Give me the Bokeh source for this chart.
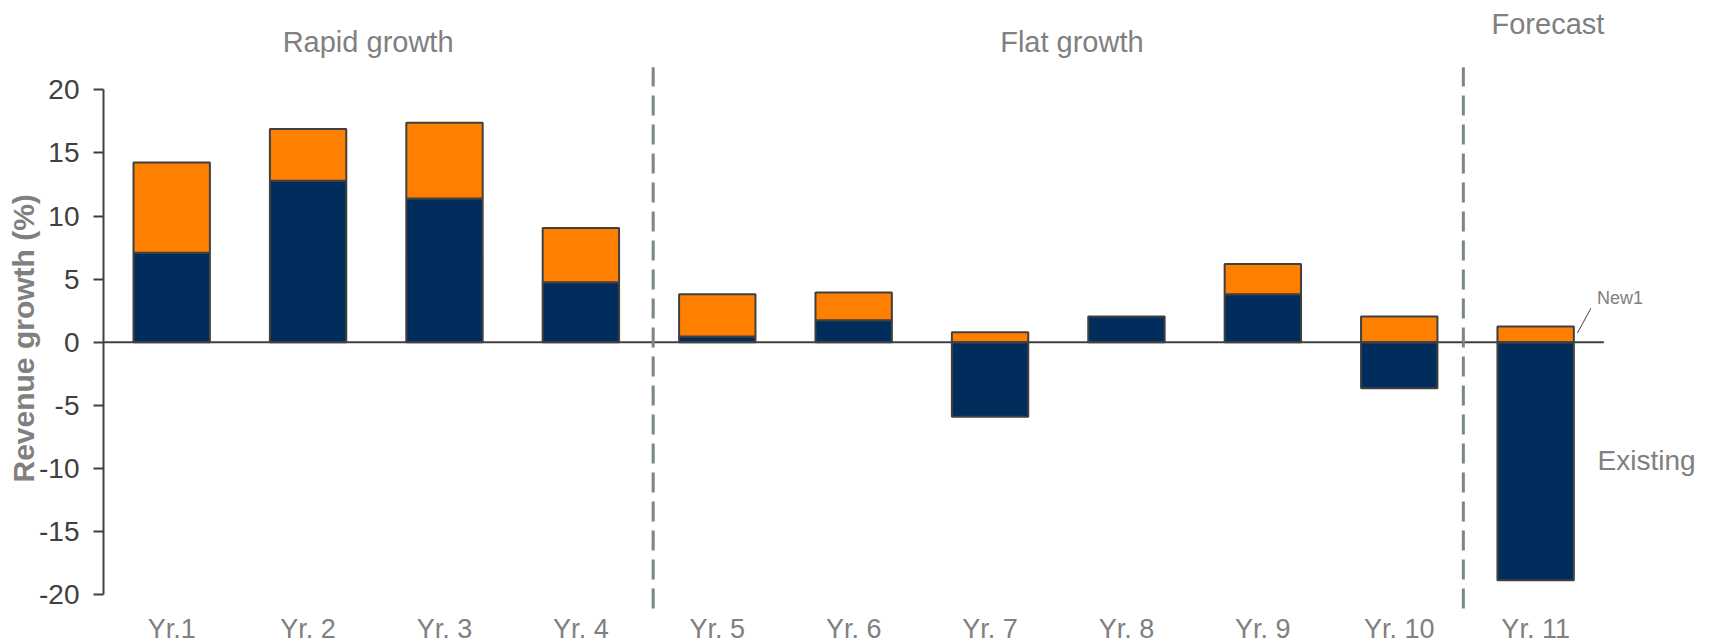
from bokeh.plotting import figure
from bokeh.models import ColumnDataSource, FixedTicker, Title
from bokeh.core.properties import value
from bokeh.embed import file_html
from bokeh.resources import INLINE

# ---- data ----
categories = ["Yr.1", "Yr. 2", "Yr. 3", "Yr. 4", "Yr. 5", "Yr. 6",
              "Yr. 7", "Yr. 8", "Yr. 9", "Yr. 10", "Yr. 11"]
existing = [7.1, 12.8, 11.4, 4.75, 0.45, 1.75, -5.9, 2.05, 3.8, -3.65, -18.85]
new = [7.15, 4.1, 6.0, 4.3, 3.35, 2.2, 0.8, 0.0, 2.4, 2.05, 1.25]
groups = ["Rapid growth", "Flat growth", "Forecast"]
group_sizes = [4, 6, 1]
y_ticks = [-20, -15, -10, -5, 0, 5, 10, 15, 20]

FONT = "Liberation Sans"
NAVY = "#002D5C"
ORANGE = "#FF7F00"
EDGE = "#404040"
GRAY = "#808080"

n = len(categories)
xs = list(range(n))
ex_bottom = [min(0, e) for e in existing]
ex_top = [max(0, e) for e in existing]
new_bottom = [max(0, e) for e in existing]
new_top = [b + v for b, v in zip(new_bottom, new)]

src = ColumnDataSource(dict(x=xs, exb=ex_bottom, ext=ex_top, cat=categories))

W, H = 1713, 644
p = figure(width=W, height=H, output_backend="svg", toolbar_location=None,
           x_range=(-0.5, 11.304), y_range=(-23.95, 27.08),
           x_axis_location=None, min_border_left=103, min_border_right=0,
           min_border_top=0, min_border_bottom=0)
p.outline_line_color = None
p.grid.visible = False
p.background_fill_color = "white"

# bars
p.vbar(x="x", bottom="exb", top="ext", width=0.56, source=src,
       fill_color=NAVY, line_color=EDGE, line_width=2)
newsrc = ColumnDataSource(dict(x=[x for x, v in zip(xs, new) if v > 0],
                               b=[b for b, v in zip(new_bottom, new) if v > 0],
                               t=[t for t, v in zip(new_top, new) if v > 0]))
p.vbar(x="x", bottom="b", top="t", width=0.56, source=newsrc,
       fill_color=ORANGE, line_color=EDGE, line_width=2)

# zero line
p.line(x=[-0.5, n - 0.5], y=[0, 0], line_color=EDGE, line_width=2)

# group dividers
bounds = []
acc = 0
for s in group_sizes[:-1]:
    acc += s
    bounds.append(acc - 0.5)
div_x = [bounds[0] + 0.03, bounds[1] - 0.03]
p.segment(x0=div_x, x1=div_x, y0=[-21.1] * 2, y1=[21.8] * 2,
          line_color="#7A8587", line_width=3, line_dash="20 9")

# group labels
starts = [0]
for s in group_sizes[:-1]:
    starts.append(starts[-1] + s)
gx = [st + (s - 1) / 2 for st, s in zip(starts, group_sizes)]
gx = [gx[0] - 0.06, gx[1] + 0.10, gx[2] + 0.09]
gy = [23.82, 23.82, 25.2]
p.text(x=gx, y=gy, text=groups, text_font=value(FONT), text_font_size="29px",
       text_color=GRAY, text_align="center", text_baseline="middle")

# category labels
p.text(x="x", y=-22.75, text="cat", source=src, text_font=value(FONT),
       text_font_size="27px", text_color=GRAY, text_align="center",
       text_baseline="middle")

# annotations
p.text(x=[n - 1 + 0.449], y=[3.5], text=["New1"], text_font=value(FONT),
       text_font_size="18px", text_color=GRAY, text_align="left",
       text_baseline="middle")
p.segment(x0=[n - 1 + 0.405], y0=[2.69], x1=[n - 1 + 0.307], y1=[0.74],
          line_color=EDGE, line_width=1)
p.text(x=[n - 1 + 0.454], y=[-9.37], text=["Existing"], text_font=value(FONT),
       text_font_size="28px", text_color=GRAY, text_align="left",
       text_baseline="middle")

# y axis
ya = p.yaxis[0]
ya.bounds = (-20, 20)
ya.ticker = FixedTicker(ticks=y_ticks)
ya.major_label_overrides = {t: str(t) for t in y_ticks}
ya.minor_tick_line_color = None
ya.major_tick_in = 0
ya.major_tick_out = 10
ya.major_tick_line_color = EDGE
ya.major_tick_line_width = 2
ya.axis_line_color = EDGE
ya.axis_line_width = 2
ya.major_label_text_font = FONT
ya.major_label_text_font_size = "28px"
ya.major_label_text_color = EDGE
ya.major_label_standoff = 14

ytitle = Title(text="Revenue growth (%)", align="left", offset=162, standoff=-7,
               text_font=FONT, text_font_size="30px", text_font_style="bold",
               text_color=GRAY)
p.add_layout(ytitle, "left")

open("out.html", "w").write(file_html(p, INLINE))
